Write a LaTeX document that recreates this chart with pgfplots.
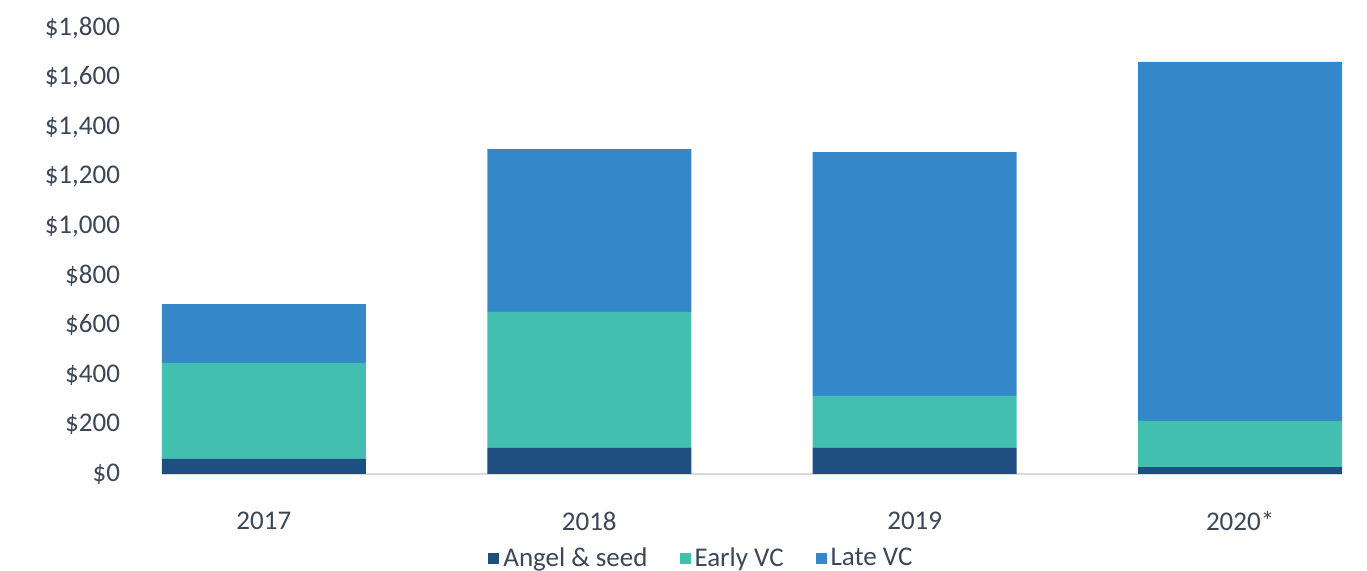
\documentclass[border=0pt]{standalone}
\usepackage{pgfplots}
\pgfplotsset{compat=1.18}
\usepackage{fontspec}
\setmainfont{Carlito}
\definecolor{angel}{HTML}{1F4E80}
\definecolor{early}{HTML}{43BFB0}
\definecolor{late}{HTML}{3487C8}
\definecolor{txt}{HTML}{3B4656}
\definecolor{axl}{HTML}{D9D9D9}
\begin{document}
\begin{tikzpicture}
\path[use as bounding box] (-81pt,-48.5pt) rectangle (602.5pt,237pt);
\begin{axis}[
  at={(0,0)}, anchor=south west,
  scale only axis, width=590pt, height=223pt,
  ybar stacked, bar width=102pt,
  xmin=-0.313, xmax=3.313, ymin=0, ymax=1800,
  xtick={0,1,2,3}, xticklabels={2017,2018,2019,2020*},
  ytick={0,200,...,1800},
  axis x line*=bottom, axis y line*=left,
  x axis line style={draw=axl, line width=0.8pt},
  y axis line style={draw=none},
  major tick length=0pt,
  font=\fontsize{13.5pt}{16pt}\selectfont\color{txt},
  yticklabel={\$\pgfmathprintnumber[assume math mode=true,1000 sep={,}]{\tick}},
  yticklabel style={anchor=east, xshift=-17.5pt},
  xticklabel style={anchor=center, yshift=-23.5pt},
  ytick style={draw=none}, xtick style={draw=none},
  legend style={at={(0.458,-0.19)}, anchor=center, draw=none, fill=none,
    legend columns=3, font=\fontsize{13.5pt}{16pt}\selectfont\color{txt},
    /tikz/every even column/.append style={column sep=14pt}},
  legend image code/.code={\fill[#1] (0pt,-2.75pt) rectangle (5.5pt,2.75pt);},
  legend cell align=left,
]
\addplot[fill=angel, draw=none] coordinates {(0,61) (1,105) (2,105) (3,28)};
\addplot[fill=early, draw=none] coordinates {(0,387) (1,549) (2,210) (3,186)};
\addplot[fill=late, draw=none] coordinates {(0,238) (1,657) (2,984) (3,1449)};
\legend{Angel \& seed, Early VC, Late VC}
\end{axis}
\end{tikzpicture}
\end{document}
